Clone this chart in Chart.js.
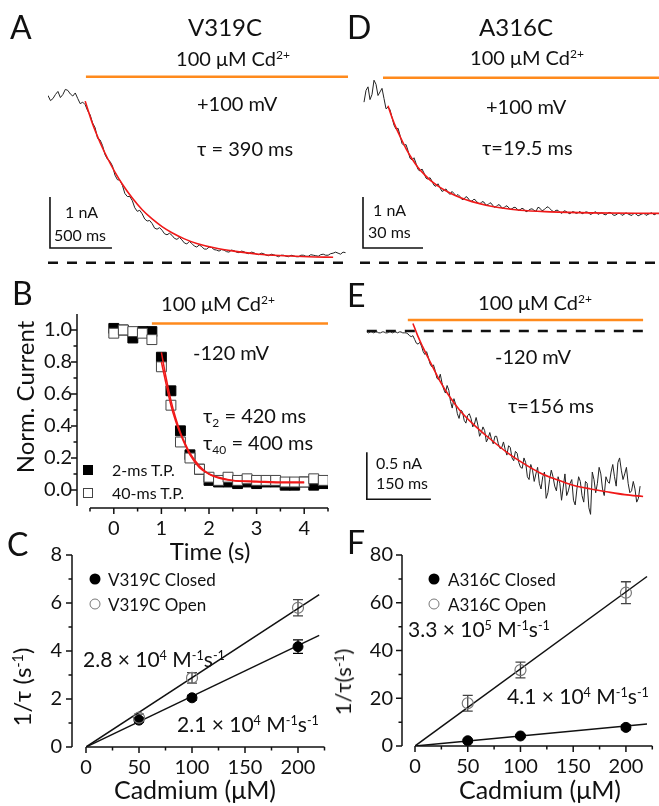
<!DOCTYPE html>
<html>
<head>
<meta charset="utf-8">
<title>Cd2+ modification rates, V319C and A316C</title>
<script src="https://cdn.jsdelivr.net/npm/chart.js@4.4.1/dist/chart.umd.min.js"></script>
<style>
  body { margin: 0; background: #fff; }
  #fig { position: relative; width: 659px; height: 806px; overflow: hidden; font-family: Lato, 'Open Sans', sans-serif; color: #111; }
  #fig canvas { position: absolute; left: 0; top: 0; }
  .t { position: absolute; white-space: nowrap; line-height: 1; transform: translateY(-50%); }
  .c { transform: translate(-50%, -50%); }
  .rot { transform: translate(-50%, -50%) rotate(-90deg); }
  sup { font-size: 0.6em; vertical-align: 0.55em; line-height: 0; }
  sub { font-size: 0.6em; vertical-align: -0.3em; line-height: 0; }
  .sw { position: absolute; box-sizing: border-box; transform: translate(-50%, -50%); }
</style>
</head>
<body>
<div id="fig">
  <canvas id="chartA" width="659" height="806"></canvas>
  <canvas id="chartD" width="659" height="806"></canvas>
  <canvas id="chartB" width="659" height="806"></canvas>
  <canvas id="chartE" width="659" height="806"></canvas>
  <canvas id="chartC" width="659" height="806"></canvas>
  <canvas id="chartF" width="659" height="806"></canvas>

  <!-- A -->
  <div class="t" style="left:10px;top:27px;font-size:32px">A</div>
  <div class="t c" style="left:225px;top:27px;font-size:24px">V319C</div>
  <div class="t c" style="left:233px;top:58px;font-size:20px">100 μM Cd<sup>2+</sup></div>
  <div class="t" style="left:197px;top:103px;font-size:20px">+100 mV</div>
  <div class="t" style="left:197px;top:148px;font-size:20px">τ = 390 ms</div>
  <div class="t" style="left:65px;top:212px;font-size:16px">1 nA</div>
  <div class="t" style="left:54px;top:235px;font-size:16px">500 ms</div>

  <!-- D -->
  <div class="t" style="left:347px;top:27px;font-size:32px">D</div>
  <div class="t c" style="left:516px;top:27px;font-size:24px">A316C</div>
  <div class="t c" style="left:527px;top:57px;font-size:20px">100 μM Cd<sup>2+</sup></div>
  <div class="t" style="left:486px;top:106px;font-size:20px">+100 mV</div>
  <div class="t" style="left:482px;top:147px;font-size:20px">τ=19.5 ms</div>
  <div class="t" style="left:373px;top:210px;font-size:16px">1 nA</div>
  <div class="t" style="left:368px;top:232px;font-size:16px">30 ms</div>

  <!-- B -->
  <div class="t" style="left:12px;top:293px;font-size:32px">B</div>
  <div class="t c" style="left:218px;top:303px;font-size:20px">100 μM Cd<sup>2+</sup></div>
  <div class="t" style="left:193px;top:352px;font-size:20px">-120 mV</div>
  <div class="t" style="left:203px;top:415px;font-size:20px">τ<sub>2</sub> = 420 ms</div>
  <div class="t" style="left:203px;top:442px;font-size:20px">τ<sub>40</sub> = 400 ms</div>
  <div class="sw" style="left:88px;top:470px;width:10px;height:10px;background:#000"></div>
  <div class="t" style="left:112px;top:470px;font-size:16px">2-ms T.P.</div>
  <div class="sw" style="left:88px;top:493px;width:10px;height:10px;border:1px solid #444;background:#fff"></div>
  <div class="t" style="left:112px;top:493px;font-size:16px">40-ms T.P.</div>
  <div class="t rot" style="left:25px;top:397px;font-size:24px">Norm. Current</div>
  <div class="t c" style="left:210px;top:551px;font-size:24px">Time (s)</div>

  <!-- E -->
  <div class="t" style="left:347px;top:295px;font-size:32px">E</div>
  <div class="t c" style="left:535px;top:302px;font-size:20px">100 μM Cd<sup>2+</sup></div>
  <div class="t" style="left:495px;top:356px;font-size:20px">-120 mV</div>
  <div class="t" style="left:508px;top:405px;font-size:20px">τ=156 ms</div>
  <div class="t" style="left:376px;top:463px;font-size:16px">0.5 nA</div>
  <div class="t" style="left:376px;top:483px;font-size:16px">150 ms</div>

  <!-- C -->
  <div class="t" style="left:7px;top:544px;font-size:32px">C</div>
  <div class="sw" style="left:95px;top:579px;width:11px;height:11px;border-radius:50%;background:#000"></div>
  <div class="t" style="left:108px;top:579px;font-size:17px">V319C Closed</div>
  <div class="sw" style="left:95px;top:604px;width:11px;height:11px;border-radius:50%;border:1.2px solid #777"></div>
  <div class="t" style="left:108px;top:604px;font-size:17px">V319C Open</div>
  <div class="t" style="left:83px;top:658px;font-size:21px">2.8 × 10<sup>4</sup> M<sup>-1</sup>s<sup>-1</sup></div>
  <div class="t" style="left:177px;top:723px;font-size:21px">2.1 × 10<sup>4</sup> M<sup>-1</sup>s<sup>-1</sup></div>
  <div class="t rot" style="left:22px;top:687px;font-size:24px">1/τ (s<sup>-1</sup>)</div>
  <div class="t c" style="left:195px;top:789px;font-size:25px">Cadmium (μM)</div>

  <!-- F -->
  <div class="t" style="left:347px;top:542px;font-size:32px">F</div>
  <div class="sw" style="left:434px;top:579px;width:11px;height:11px;border-radius:50%;background:#000"></div>
  <div class="t" style="left:448px;top:579px;font-size:17px">A316C Closed</div>
  <div class="sw" style="left:434px;top:604px;width:11px;height:11px;border-radius:50%;border:1.2px solid #777"></div>
  <div class="t" style="left:448px;top:604px;font-size:17px">A316C Open</div>
  <div class="t" style="left:408px;top:628px;font-size:21px">3.3 × 10<sup>5</sup> M<sup>-1</sup>s<sup>-1</sup></div>
  <div class="t" style="left:507px;top:695px;font-size:21px">4.1 × 10<sup>4</sup> M<sup>-1</sup>s<sup>-1</sup></div>
  <div class="t rot" style="left:343px;top:682px;font-size:22px">1/τ(s<sup>-1</sup>)</div>
  <div class="t c" style="left:540px;top:789px;font-size:25px">Cadmium (μM)</div>
</div>

<script>
// ---------- data ----------

// A: V319C at +100 mV, current (nA), one sample every 20 ms from t = 0
const traceA_t0 = 0, traceA_dt = 20;
const traceA = [
  3.28, 3.18, 3.22, 3.30, 3.36, 3.24, 3.30, 3.40, 3.38, 3.31,
  3.27, 3.33, 3.22, 3.12, 3.15, 3.10, 2.98, 2.90, 2.74, 2.65,
  2.44, 2.41, 2.30, 2.12, 2.03, 1.99, 1.90, 1.72, 1.63, 1.62,
  1.52, 1.36, 1.30, 1.30, 1.22, 1.08, 1.01, 1.03, 0.96, 0.86,
  0.82, 0.83, 0.77, 0.68, 0.66, 0.69, 0.64, 0.57, 0.55, 0.58,
  0.54, 0.48, 0.46, 0.50, 0.45, 0.39, 0.37, 0.42, 0.38, 0.33,
  0.31, 0.35, 0.32, 0.27, 0.27, 0.31, 0.30, 0.26, 0.25, 0.23,
  0.26, 0.25, 0.22, 0.21, 0.25, 0.24, 0.21, 0.20, 0.23, 0.22,
  0.19, 0.18, 0.21, 0.20, 0.17, 0.16, 0.19, 0.18, 0.15, 0.14,
  0.17, 0.16, 0.14, 0.12, 0.15, 0.15, 0.13, 0.12, 0.15, 0.14,
  0.12, 0.12, 0.15, 0.15, 0.13, 0.13, 0.16, 0.15, 0.14, 0.13,
  0.16, 0.17, 0.15, 0.15, 0.18, 0.19, 0.21, 0.19, 0.17, 0.21,
  0.20];
const fitA_t = [300, 360, 420, 480, 540, 600, 680, 760, 840, 920, 1000, 1100, 1200, 1350, 1500, 1700, 1900, 2100, 2300];
const fitA_i = [3.17, 2.72, 2.36, 2.05, 1.78, 1.54, 1.27, 1.04, 0.86, 0.71, 0.59, 0.47, 0.38, 0.29, 0.23, 0.17, 0.14, 0.12, 0.11];

// D: A316C at +100 mV, current (nA), one sample every 1 ms from t = 2 ms
const traceD_t0 = 2, traceD_dt = 1;
const traceD = [
  3.15, 3.38, 3.45, 3.20, 3.30, 3.58, 3.50, 3.28, 3.35, 3.42,
  3.22, 3.02, 3.05, 3.00, 2.85, 2.70, 2.62, 2.64, 2.50, 2.34,
  2.30, 2.32, 2.20, 2.05, 2.02, 2.06, 1.95, 1.83, 1.80, 1.84,
  1.76, 1.66, 1.64, 1.67, 1.60, 1.52, 1.50, 1.55, 1.47, 1.40,
  1.42, 1.45, 1.38, 1.34, 1.40, 1.36, 1.31, 1.34, 1.30, 1.24,
  1.25, 1.30, 1.27, 1.21, 1.21, 1.25, 1.22, 1.17, 1.16, 1.20,
  1.19, 1.13, 1.14, 1.18, 1.15, 1.09, 1.10, 1.14, 1.13, 1.07,
  1.08, 1.12, 1.10, 1.05, 1.06, 1.09, 1.08, 1.03, 1.04, 1.07,
  1.05, 1.00, 1.02, 1.05, 1.06, 1.03, 1.01, 1.09, 1.07, 1.02,
  1.04, 1.08, 1.10, 1.06, 1.02, 1.00, 1.03, 1.03, 0.99, 0.97,
  1.02, 1.01, 0.98, 0.96, 1.00, 1.00, 0.97, 0.98, 1.01, 0.96,
  0.98, 1.00, 0.99, 0.95, 0.96, 0.99, 1.00, 0.95, 0.97, 0.98,
  0.95, 0.94, 0.98, 0.99, 0.96, 0.93, 0.94, 0.97, 0.97, 0.93,
  0.95, 0.98, 0.96, 0.94, 0.93, 0.97, 0.96, 0.92, 0.94, 0.96,
  0.97, 0.93, 0.95, 0.97, 0.98, 0.94, 0.96];
const fitD_t = [14, 16, 18, 20, 23, 26, 29, 32, 36, 40, 45, 50, 56, 63, 70, 80, 95, 115, 149.5];
const fitD_i = [3.08, 2.85, 2.65, 2.48, 2.24, 2.04, 1.87, 1.74, 1.59, 1.48, 1.37, 1.28, 1.20, 1.13, 1.08, 1.03, 1.00, 0.98, 0.97];

// E: A316C at -120 mV, current (nA), one sample every 4 ms from t = 16 ms
const traceE_t0 = 16, traceE_dt = 4;
const traceE = [
  -0.01, -0.02, -0.01, -0.01, -0.02, -0.01, -0.01, -0.02, -0.02, -0.01,
  -0.01, -0.02, -0.02, -0.01, -0.01, -0.02, -0.01, -0.01, -0.02, -0.01,
  -0.01, -0.02, -0.02, -0.02, -0.03, -0.05, -0.06, -0.05, -0.09, -0.13,
  -0.14, -0.12, -0.16, -0.22, -0.25, -0.22, -0.28, -0.35, -0.38, -0.36,
  -0.42, -0.50, -0.52, -0.46, -0.55, -0.62, -0.66, -0.58, -0.63, -0.75,
  -0.82, -0.72, -0.78, -0.88, -0.93, -0.84, -0.86, -0.95, -0.98, -0.90,
  -0.88, -0.93, -1.02, -0.99, -0.92, -1.00, -1.12, -1.08, -1.02, -1.06,
  -1.18, -1.14, -1.08, -1.15, -1.20, -1.12, -1.12, -1.20, -1.25, -1.24,
  -1.18, -1.26, -1.32, -1.22, -1.24, -1.35, -1.38, -1.28, -1.30, -1.40,
  -1.45, -1.46, -1.35, -1.40, -1.55, -1.58, -1.42, -1.48, -1.60, -1.52,
  -1.45, -1.62, -1.68, -1.55, -1.50, -1.78, -1.72, -1.58, -1.48, -1.55,
  -1.65, -1.70, -1.55, -1.62, -1.80, -1.66, -1.52, -1.75, -1.70, -1.62,
  -1.58, -1.80, -1.85, -1.68, -1.55, -1.60, -1.75, -1.82, -1.60, -1.62,
  -1.88, -1.95, -1.50, -1.58, -1.72, -1.62, -1.45, -1.52, -1.68, -1.75,
  -1.55, -1.60, -1.62, -1.50, -1.42, -1.55, -1.65, -1.40, -1.35, -1.48,
  -1.58, -1.52, -1.45, -1.62, -1.72, -1.70, -1.60, -1.68, -1.82, -1.78,
  -1.65];
const fitE_t = [124, 135, 147, 160, 170, 187, 210, 235, 265, 300, 344, 380, 422, 460, 499, 540, 578, 620, 663];
const fitE_i = [0.08, -0.05, -0.17, -0.29, -0.38, -0.53, -0.70, -0.85, -0.99, -1.13, -1.29, -1.40, -1.51, -1.58, -1.64, -1.68, -1.71, -1.74, -1.76];

// Cd2+ application (ms) and baseline extent for A, D, E
const cdA = [306, 2420], baseA = [0, 2420];
const cdD = [11.5, 149.5], baseD = [0, 149.5];
const cdE = [112, 663], baseE = [16, 663];

// B: V319C at -120 mV, normalized current vs time (s)
const timeB = [0, 0.2, 0.4, 0.6, 0.8, 1.0, 1.2, 1.4, 1.6, 1.8, 2.0, 2.2, 2.4, 2.6, 2.8, 3.0, 3.2, 3.4, 3.6, 3.8, 4.0, 4.2, 4.4];
const normTP2 = [1.01, 1.00, 0.95, 0.99, 0.99, 0.83, 0.62, 0.37, 0.22, 0.13, 0.06, 0.05, 0.05, 0.04, 0.05, 0.04, 0.05, 0.05, 0.03, 0.03, 0.05, 0.03, 0.04];
const normTP40 = [0.98, 1.00, 0.99, 0.98, 0.94, 0.77, 0.53, 0.30, 0.20, 0.13, 0.08, 0.06, 0.08, 0.06, 0.07, 0.06, 0.06, 0.06, 0.05, 0.05, 0.05, 0.07, 0.06];
const fitB_t = [1.0, 1.1, 1.2, 1.3, 1.4, 1.5, 1.6, 1.8, 2.0, 2.2, 2.5, 3.0, 3.5, 4.0];
const fitB2 = [0.86, 0.70, 0.56, 0.45, 0.36, 0.29, 0.23, 0.15, 0.10, 0.08, 0.06, 0.05, 0.045, 0.045];
const fitB40 = [0.80, 0.66, 0.53, 0.43, 0.35, 0.28, 0.22, 0.14, 0.10, 0.075, 0.06, 0.055, 0.05, 0.05];
const cdB = [0.8, 4.5];
const xTicksB = [0, 1, 2, 3, 4], xMinorB = [-0.5, 0.5, 1.5, 2.5, 3.5, 4.5];
const yTicksB = [0, 0.2, 0.4, 0.6, 0.8, 1.0], yMinorB = [0.1, 0.3, 0.5, 0.7, 0.9];

// C, F: 1/tau (s^-1) vs Cd2+ concentration (uM)
const cadmium = [50, 100, 200];
const v319Closed = [1.12, 2.05, 4.18], v319ClosedErr = [0.08, 0.10, 0.28];
const v319Open = [1.22, 2.88, 5.80], v319OpenErr = [0.15, 0.22, 0.34];
const a316Closed = [2.2, 4.2, 7.8], a316ClosedErr = [0.6, 0.6, 0.9];
const a316Open = [17.9, 31.8, 64.2], a316OpenErr = [3.3, 3.3, 4.6];
const fitConc = [0, 220];
const v319ClosedFit = [0, 4.65], v319OpenFit = [0, 6.35];
const a316ClosedFit = [0, 9.2], a316OpenFit = [0, 71];
const xTicksCd = [0, 50, 100, 150, 200], xMinorCd = [25, 75, 125, 175, 225];
const yTicksC = [0, 2, 4, 6, 8], yMinorC = [1, 3, 5, 7];
const yTicksF = [0, 20, 40, 60, 80], yMinorF = [10, 30, 50, 70];

// ---------- drawing ----------
const W = 659, H = 806;
const RED = '#f01818', ORANGE = '#ff8a1c', INK = '#111';
Chart.defaults.font.family = "Lato, 'Open Sans', sans-serif";
Chart.defaults.color = INK;

const pts = (xs, ys) => xs.map((x, i) => ({x, y: ys[i]}));
const sampled = (t0, dt, ys) => ys.map((y, i) => ({x: t0 + i * dt, y}));
const hline = (span, y) => [{x: span[0], y}, {x: span[1], y}];

const traceSet = data => ({data, borderColor: '#222', borderWidth: 1, order: 3});
const fitSet = data => ({data, borderColor: RED, borderWidth: 1.6, cubicInterpolationMode: 'monotone', order: 1});
const cdSet = data => ({data, borderColor: ORANGE, borderWidth: 2.5, order: 2});
const baseSet = data => ({data, borderColor: INK, borderWidth: 2.5, borderDash: [10, 9], order: 2});
const barSet = data => ({data, borderColor: INK, borderWidth: 1.6, order: 2});

// trace panels: axes hidden, plot area placed by padding
function traceChart(id, area, xr, yr, datasets) {
  return new Chart(document.getElementById(id), {
    type: 'line',
    data: {datasets},
    options: {
      responsive: false, animation: false, events: [],
      layout: {padding: {left: area[0], top: area[1], right: W - area[2], bottom: H - area[3]}},
      elements: {point: {radius: 0}, line: {borderCapStyle: 'butt'}},
      plugins: {legend: {display: false}, tooltip: {enabled: false}},
      scales: {
        x: {type: 'linear', display: false, min: xr[0], max: xr[1]},
        y: {type: 'linear', display: false, min: yr[0], max: yr[1]}
      }
    }
  });
}

traceChart('chartA', [48, 70, 348, 270], [0, 2420], [-0.14, 3.78], [
  traceSet(sampled(traceA_t0, traceA_dt, traceA)),
  fitSet(pts(fitA_t, fitA_i)),
  cdSet(hline(cdA, 3.65)),
  baseSet(hline(baseA, 0)),
  barSet([{x: 16, y: 1.29}, {x: 16, y: 0.29}, {x: 516, y: 0.29}])
]);

traceChart('chartD', [360, 70, 659, 270], [0, 149.5], [-0.14, 3.78], [
  traceSet(sampled(traceD_t0, traceD_dt, traceD)),
  fitSet(pts(fitD_t, fitD_i)),
  cdSet(hline(cdD, 3.63)),
  baseSet(hline(baseD, 0)),
  barSet([{x: 1.5, y: 1.29}, {x: 1.5, y: 0.29}, {x: 31.5, y: 0.29}])
]);

traceChart('chartE', [360, 310, 648, 520], [0, 674.5], [-2.01, 0.223], [
  traceSet(sampled(traceE_t0, traceE_dt, traceE)),
  fitSet(pts(fitE_t, fitE_i)),
  cdSet(hline(cdE, 0.117)),
  baseSet(hline(baseE, 0)),
  barSet([{x: 16, y: -1.29}, {x: 16, y: -1.79}, {x: 166, y: -1.79}])
]);

// Origin-style detached axes: y axis line sits left of the plot area
const axisLines = {
  id: 'axisLines',
  afterDraw(chart, args, o) {
    const {ctx, scales: {x, y}} = chart;
    const ax = x.left - o.yGap, ay = y.bottom + o.xGap;
    ctx.save();
    ctx.strokeStyle = INK;
    ctx.lineWidth = 1.5;
    ctx.beginPath();
    ctx.moveTo(ax, y.top); ctx.lineTo(ax, y.bottom);
    ctx.moveTo(x.left, ay); ctx.lineTo(x.right, ay);
    y.ticks.forEach(t => { const p = y.getPixelForValue(t.value); ctx.moveTo(ax - 6, p); ctx.lineTo(ax, p); });
    o.yMinor.forEach(v => { const p = y.getPixelForValue(v); ctx.moveTo(ax - 3.5, p); ctx.lineTo(ax, p); });
    x.ticks.forEach(t => { const p = x.getPixelForValue(t.value); ctx.moveTo(p, ay); ctx.lineTo(p, ay + 6); });
    o.xMinor.forEach(v => { const p = x.getPixelForValue(v); ctx.moveTo(p, ay); ctx.lineTo(p, ay + 3.5); });
    ctx.stroke();
    ctx.restore();
  }
};

const errorBars = {
  id: 'errorBars',
  beforeDatasetsDraw(chart) {
    const {ctx, scales: {x, y}} = chart;
    ctx.save();
    ctx.lineWidth = 1.3;
    chart.data.datasets.forEach(ds => {
      if (!ds.errorY) return;
      ctx.strokeStyle = ds.errorColor;
      ds.data.forEach((p, i) => {
        const px = x.getPixelForValue(p.x);
        const top = y.getPixelForValue(p.y + ds.errorY[i]);
        const bot = y.getPixelForValue(p.y - ds.errorY[i]);
        ctx.beginPath();
        ctx.moveTo(px, top); ctx.lineTo(px, bot);
        ctx.moveTo(px - 5, top); ctx.lineTo(px + 5, top);
        ctx.moveTo(px - 5, bot); ctx.lineTo(px + 5, bot);
        ctx.stroke();
      });
    });
    ctx.restore();
  }
};

const Y_BOX = 70, X_BOX = 45; // fixed scale box sizes so the plot area lands where wanted

function axesChart(id, area, xr, yr, ax, datasets) {
  return new Chart(document.getElementById(id), {
    type: 'scatter',
    data: {datasets},
    plugins: [axisLines, errorBars],
    options: {
      responsive: false, animation: false, events: [],
      layout: {padding: {left: area[0] - Y_BOX, top: area[1], right: W - area[2], bottom: H - area[3] - X_BOX}},
      plugins: {legend: {display: false}, tooltip: {enabled: false}, axisLines: ax},
      scales: {
        x: {
          type: 'linear', min: xr[0], max: xr[1],
          afterBuildTicks: s => { s.ticks = ax.xTicks.map(value => ({value})); },
          afterFit: s => { s.height = X_BOX; },
          grid: {display: false, drawTicks: false}, border: {display: false},
          ticks: {padding: ax.xPad, autoSkip: false, maxRotation: 0, font: {size: 20}, callback: v => String(v)}
        },
        y: {
          type: 'linear', min: yr[0], max: yr[1],
          afterBuildTicks: s => { s.ticks = ax.yTicks.map(value => ({value})); },
          afterFit: s => { s.width = Y_BOX; },
          grid: {display: false, drawTicks: false}, border: {display: false},
          ticks: {padding: ax.yPad, autoSkip: false, font: {size: 20}, callback: ax.yFmt}
        }
      }
    }
  });
}

const lineSet = (data, color, width, order) =>
  ({type: 'line', data, borderColor: color, borderWidth: width, pointRadius: 0, order});
const filledDots = (data, err) =>
  ({data, errorY: err, errorColor: '#000', pointRadius: 5, backgroundColor: '#000', borderColor: '#000', borderWidth: 1, order: 1});
const openDots = (data, err) =>
  ({data, errorY: err, errorColor: '#444', pointRadius: 5.5, backgroundColor: 'rgba(255,255,255,0)', borderColor: '#777', borderWidth: 1.2, order: 0});

axesChart('chartB', [90, 314, 328, 506], [-0.5, 4.5], [-0.1, 1.1],
  {yGap: 13, xGap: 2, xTicks: xTicksB, yTicks: yTicksB, xMinor: xMinorB, yMinor: yMinorB, xPad: 11, yPad: 18, yFmt: v => v.toFixed(1)},
  [
    {type: 'line', data: pts(fitB_t, fitB2), borderColor: RED, borderWidth: 1.5, pointRadius: 0, cubicInterpolationMode: 'monotone', order: 0},
    {type: 'line', data: pts(fitB_t, fitB40), borderColor: RED, borderWidth: 1.5, pointRadius: 0, cubicInterpolationMode: 'monotone', order: 0},
    lineSet(hline(cdB, 1.04), ORANGE, 2.5, 4),
    {data: pts(timeB, normTP40), pointStyle: 'rect', pointRadius: 7, backgroundColor: '#fff', borderColor: '#444', borderWidth: 1, order: 1},
    {data: pts(timeB, normTP2), pointStyle: 'rect', pointRadius: 7, backgroundColor: '#000', borderColor: '#000', borderWidth: 1, order: 2}
  ]);

axesChart('chartC', [86, 555, 324.5, 747], [0, 225], [0, 8],
  {yGap: 14, xGap: 0, xTicks: xTicksCd, yTicks: yTicksC, xMinor: xMinorCd, yMinor: yMinorC, xPad: 9, yPad: 24, yFmt: v => String(v)},
  [
    lineSet(pts(fitConc, v319OpenFit), INK, 1.5, 3),
    lineSet(pts(fitConc, v319ClosedFit), INK, 1.5, 3),
    openDots(pts(cadmium, v319Open), v319OpenErr),
    filledDots(pts(cadmium, v319Closed), v319ClosedErr)
  ]);

axesChart('chartF', [415, 555, 652.4, 746], [0, 225], [0, 80],
  {yGap: 13, xGap: 0, xTicks: xTicksCd, yTicks: yTicksF, xMinor: xMinorCd, yMinor: yMinorF, xPad: 9, yPad: 22, yFmt: v => String(v)},
  [
    lineSet(pts(fitConc, a316OpenFit), INK, 1.5, 3),
    lineSet(pts(fitConc, a316ClosedFit), INK, 1.5, 3),
    openDots(pts(cadmium, a316Open), a316OpenErr),
    filledDots(pts(cadmium, a316Closed), a316ClosedErr)
  ]);
</script>
</body>
</html>
